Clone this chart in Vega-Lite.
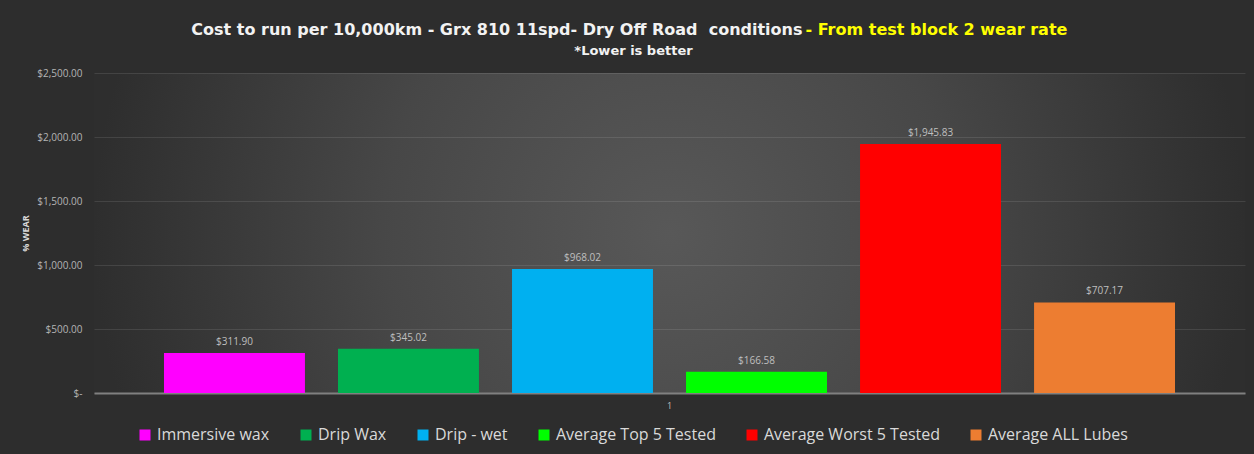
{
  "$schema": "https://vega.github.io/schema/vega-lite/v6.json",
  "width": 1151,
  "height": 320,
  "autosize": {"type": "none"},
  "padding": {"left": 94, "top": 73, "right": 9, "bottom": 61},
  "background": "#2d2d2d",
  "config": {
    "font": "Open Sans",
    "view": {
      "stroke": null,
      "fill": {
        "gradient": "radial",
        "x1": 0.5, "y1": 0.5, "r1": 0,
        "x2": 0.5, "y2": 0.5, "r2": 0.5,
        "stops": [
          {"offset": 0, "color": "#585858"},
          {"offset": 0.5, "color": "#474747"},
          {"offset": 1, "color": "#2e2e2e"}
        ]
      }
    }
  },
  "data": {
    "values": [
      {"group": "1", "series": "Immersive wax", "cost": 311.90},
      {"group": "1", "series": "Drip Wax", "cost": 345.02},
      {"group": "1", "series": "Drip - wet", "cost": 968.02},
      {"group": "1", "series": "Average Top 5 Tested", "cost": 166.58},
      {"group": "1", "series": "Average Worst 5 Tested", "cost": 1945.83},
      {"group": "1", "series": "Average ALL Lubes", "cost": 707.17}
    ]
  },
  "layer": [
    {
      "mark": {"type": "bar"},
      "encoding": {
        "x": {
          "field": "group", "type": "nominal",
          "scale": {"paddingOuter": 0.0512, "paddingInner": 0},
          "axis": {
            "orient": "bottom",
            "labelAngle": 0,
            "labelColor": "#bfbfbf",
            "labelFontSize": 9,
            "labelPadding": 8,
            "ticks": false,
            "grid": false,
            "domainColor": "#808080",
            "domainWidth": 2,
            "title": "*Lower is better",
            "titleX": 539,
            "titleY": -339,
            "titleAlign": "center",
            "titleBaseline": "alphabetic",
            "titleFont": "DejaVu Sans",
            "titleFontSize": 13,
            "titleFontWeight": "bold",
            "titleColor": "#f2f2f2"
          }
        },
        "xOffset": {
          "field": "series", "type": "nominal",
          "sort": ["Immersive wax", "Drip Wax", "Drip - wet", "Average Top 5 Tested", "Average Worst 5 Tested", "Average ALL Lubes"],
          "scale": {"paddingInner": 0.19, "paddingOuter": 0.095}
        },
        "y": {
          "field": "cost", "type": "quantitative", "stack": null,
          "scale": {"domain": [0, 2500], "nice": false},
          "axis": {
            "orient": "left",
            "values": [0, 500, 1000, 1500, 2000, 2500],
            "labelExpr": "datum.value === 0 ? '$-\u00a0\u00a0\u00a0' : format(datum.value, '$,.2f')",
            "labelColor": "#b4b4b4",
            "labelFontSize": 10,
            "labelPadding": 12,
            "ticks": false,
            "domain": false,
            "grid": true,
            "gridColor": "#ffffff",
            "gridOpacity": 0.1,
            "title": "% WEAR",
            "titleFontSize": 9,
            "titleFontWeight": "bold",
            "titleColor": "#d9d9d9",
            "titlePadding": 6
          }
        },
        "color": {
          "field": "series", "type": "nominal",
          "scale": {
            "domain": ["Immersive wax", "Drip Wax", "Drip - wet", "Average Top 5 Tested", "Average Worst 5 Tested", "Average ALL Lubes"],
            "range": ["#ff00ff", "#00b050", "#00b0f0", "#00ff00", "#ff0000", "#ed7d31"]
          },
          "legend": {
            "orient": "none",
            "legendX": 43,
            "legendY": 354,
            "direction": "horizontal",
            "columns": 6,
            "title": null,
            "symbolType": "square",
            "symbolSize": 121,
            "symbolStrokeWidth": 0,
            "labelFontSize": 16,
            "labelColor": "#d9d9d9",
            "labelLimit": 400,
            "labelOffset": 4,
            "columnPadding": 28,
            "padding": 0
          }
        }
      }
    },
    {
      "mark": {"type": "text", "baseline": "bottom", "dy": -6, "fontSize": 10, "color": "#bfbfbf"},
      "encoding": {
        "x": {
          "field": "group", "type": "nominal",
          "axis": {
            "orient": "top",
            "labels": false,
            "ticks": false,
            "domain": false,
            "grid": false,
            "title": "Cost to run per 10,000km - Grx 810 11spd- Dry Off Road\u00a0 conditions",
            "titleX": 708,
            "titleY": -39,
            "titleAlign": "right",
            "titleBaseline": "alphabetic",
            "titleFont": "DejaVu Sans",
            "titleFontSize": 16,
            "titleFontWeight": "bold",
            "titleColor": "#f2f2f2"
          }
        },
        "xOffset": {
          "field": "series", "type": "nominal",
          "sort": ["Immersive wax", "Drip Wax", "Drip - wet", "Average Top 5 Tested", "Average Worst 5 Tested", "Average ALL Lubes"]
        },
        "y": {
          "field": "cost", "type": "quantitative", "stack": null,
          "axis": {
            "orient": "right",
            "labels": false,
            "ticks": false,
            "domain": false,
            "grid": false,
            "title": "- From test block 2 wear rate",
            "titleAngle": 0,
            "titleX": -440,
            "titleY": -39,
            "titleAlign": "left",
            "titleBaseline": "alphabetic",
            "titleFont": "DejaVu Sans",
            "titleFontSize": 16,
            "titleFontWeight": "bold",
            "titleColor": "#ffff00"
          }
        },
        "text": {"field": "cost", "type": "quantitative", "format": "$,.2f"}
      }
    }
  ],
  "resolve": {"axis": {"x": "independent", "y": "independent"}}
}
